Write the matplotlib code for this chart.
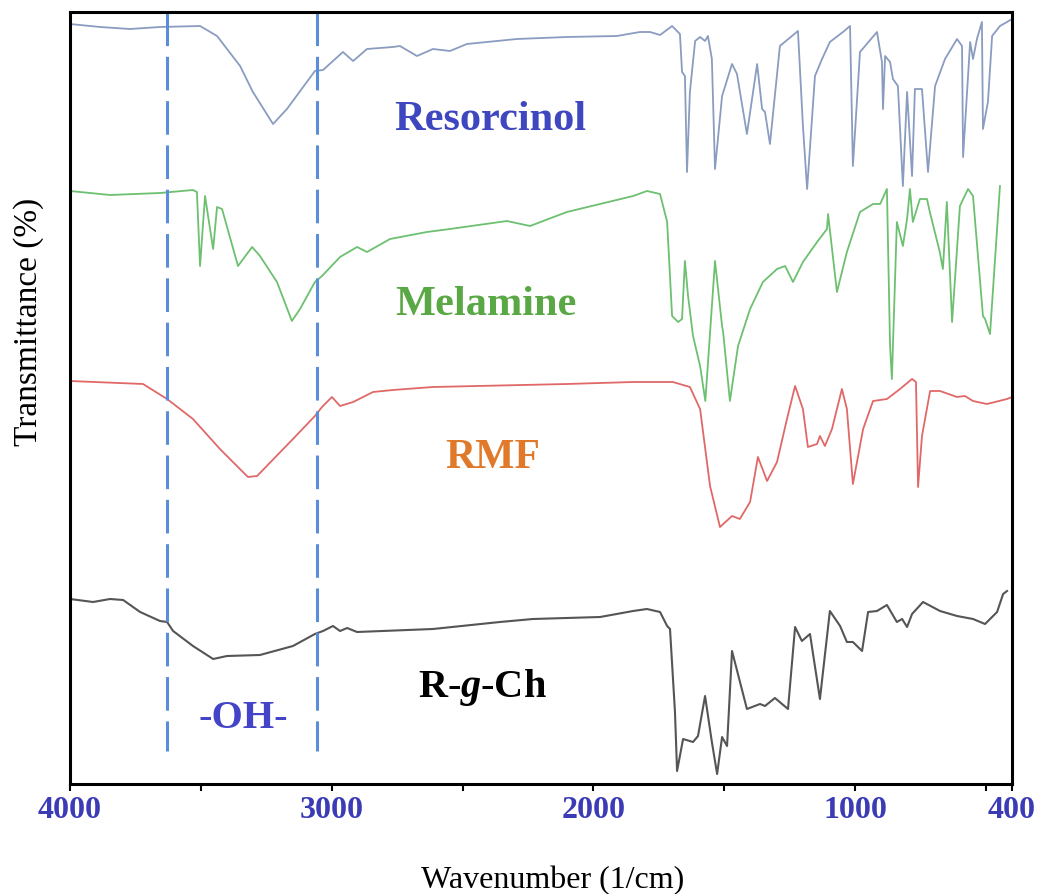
import matplotlib
matplotlib.use("Agg")
import matplotlib.pyplot as plt
from matplotlib.ticker import FixedLocator

plt.rcParams['font.family'] = ['Liberation Serif', 'DejaVu Serif']
plt.rcParams['mathtext.fontset'] = 'custom'
plt.rcParams['mathtext.rm'] = 'Liberation Serif:bold'
plt.rcParams['mathtext.it'] = 'Liberation Serif:italic:bold'
plt.rcParams['mathtext.bf'] = 'Liberation Serif:bold'
plt.rcParams['lines.solid_joinstyle'] = 'round'

# FTIR spectra (stacked, arbitrary transmittance units)
res_wn = [4000, 3885, 3771, 3656, 3503, 3438, 3350, 3301, 3224, 3171, 3064, 3033, 2957, 2918,
          2865, 2766, 2739, 2674, 2613, 2548, 2483, 2292, 2101, 1910, 1822, 1783, 1745, 1699,
          1669, 1661, 1650, 1642, 1631, 1611, 1592, 1573, 1562, 1547, 1535, 1508, 1470, 1451,
          1413, 1374, 1355, 1344, 1325, 1287, 1218, 1199, 1183, 1153, 1126, 1096, 1046, 1019,
          1008, 981, 916, 897, 893, 885, 866, 855, 836, 817, 801, 782, 771, 744, 721, 694, 656,
          610, 591, 587, 560, 549, 534, 515, 511, 492, 476, 446, 419, 400]
res_t = [760, 757, 755, 757, 758, 748, 718, 692, 660, 675, 713, 714, 732, 723,
         735, 737, 738, 728, 735, 733, 740, 745, 747, 748, 752, 752, 749, 758,
         750, 712, 708, 612, 692, 743, 747, 743, 748, 725, 615, 688, 720, 710,
         650, 720, 675, 672, 640, 738, 753, 658, 595, 708, 725, 742, 752, 758,
         618, 732, 752, 722, 675, 728, 722, 705, 698, 598, 692, 608, 695, 695, 612, 698, 725,
         745, 738, 627, 742, 725, 745, 762, 655, 682, 748, 758, 762, 765]

mel_wn = [4000, 3847, 3656, 3530, 3515, 3503, 3484, 3453, 3438, 3419, 3358, 3304, 3274, 3209,
          3152, 3121, 3064, 3037, 2968, 2903, 2865, 2777, 2636, 2548, 2330, 2242, 2101, 1848,
          1795, 1745, 1718, 1699, 1676, 1661, 1650, 1638, 1619, 1592, 1572, 1535, 1508, 1504,
          1478, 1447, 1401, 1352, 1298, 1267, 1237, 1199, 1145, 1107, 1103, 1069, 1031, 981,
          931, 904, 878, 866, 859, 840, 817, 801, 790, 779, 752, 725, 714, 676, 664, 649, 629,
          599, 568, 549, 511, 503, 484, 446]
mel_t = [593, 589, 591, 594, 592, 518, 588, 535, 577, 575, 518, 537, 528, 502,
         463, 475, 502, 508, 527, 537, 532, 545, 552, 555, 563, 558, 572, 588,
         593, 590, 562, 468, 462, 465, 523, 488, 448, 418, 383, 523, 458, 452,
         383, 438, 475, 502, 515, 518, 502, 522, 542, 555, 570, 492, 532, 572,
         580, 580, 595, 438, 405, 562, 538, 565, 595, 562, 585, 585, 572, 532, 515, 582, 462,
         578, 595, 588, 468, 465, 450, 598]

rmf_wn = [4000, 3721, 3629, 3530, 3427, 3320, 3285, 3148, 3064, 3037, 2999, 2968, 2918, 2842,
          2766, 2613, 2101, 1848, 1696, 1631, 1592, 1554, 1516, 1470, 1440, 1401, 1371, 1336,
          1298, 1260, 1229, 1199, 1180, 1145, 1134, 1115, 1088, 1050, 1031, 1008, 969, 931,
          878, 828, 782, 767, 759, 744, 713, 675, 610, 580, 549, 496, 419, 400]
rmf_t = [403, 400, 385, 365, 335, 307, 308, 345, 368, 377, 387, 378, 382, 392,
         394, 397, 400, 402, 402, 397, 375, 298, 257, 268, 265, 282, 327, 303,
         322, 365, 398, 375, 337, 340, 348, 338, 355, 395, 375, 300, 355, 383,
         385, 395, 405, 402, 297, 348, 393, 393, 387, 388, 383, 380, 385, 387]

rgc_wn = [4000, 3912, 3847, 3797, 3732, 3656, 3629, 3606, 3530, 3453, 3400, 3274, 3148, 3064,
          3033, 2995, 2968, 2941, 2903, 2613, 2357, 2231, 1974, 1848, 1795, 1745, 1718, 1707,
          1688, 1680, 1657, 1619, 1600, 1573, 1547, 1527, 1508, 1489, 1470, 1413, 1363, 1344,
          1306, 1256, 1229, 1203, 1172, 1134, 1096, 1057, 1031, 1008, 973, 950, 916, 878, 840,
          820, 801, 782, 740, 675, 610, 549, 503, 457, 434, 419]
rgc_t = [185, 182, 185, 184, 172, 163, 162, 153, 138, 125, 128, 129, 138, 150,
         153, 158, 153, 156, 152, 155, 162, 165, 167, 173, 175, 172, 158, 155,
         72, 13, 45, 42, 48, 88, 42, 10, 47, 38, 133, 75, 80, 78,
         86, 75, 157, 143, 150, 85, 173, 158, 142, 142, 133, 172, 173, 179, 162,
         165, 157, 170, 182, 173, 168, 165, 160, 172, 190, 193]

oh_bounds = [3630, 3055]

fig = plt.figure(figsize=(10.4, 8.95), dpi=100)
ax = fig.add_axes([70/1040, 1-785/895, 942/1040, 772/895])

ax.plot(res_wn, res_t, color='#8a9cc0', lw=1.3)
ax.plot(mel_wn, mel_t, color='#6cc070', lw=1.3)
ax.plot(rmf_wn, rmf_t, color='#e06868', lw=1.3)
ax.plot(rgc_wn, rgc_t, color='#555555', lw=1.5)

for x in oh_bounds:
    ax.plot([x, x], [772, 33], color='#5b8ed8', lw=2.2, linestyle=(0, (11, 3.5)))

ax.text(2395, 665, 'Resorcinol', color='#3f47c0', fontsize=30.5, fontweight='bold', ha='center', va='center')
ax.text(2410, 480, 'Melamine', color='#5aa845', fontsize=30.5, fontweight='bold', ha='center', va='center')
ax.text(2383, 327, 'RMF', color='#e07a2a', fontsize=30, fontweight='bold', ha='center', va='center')
ax.text(2425, 97, r'R-$\mathit{g}$-Ch', color='black', fontsize=29, fontweight='bold', ha='center', va='center')
ax.text(3339, 67, '-OH-', color='#4444c8', fontsize=29, fontweight='bold', ha='center', va='center')

ax.set_xlim(4000, 400)
ax.set_ylim(0, 772)
ax.xaxis.set_major_locator(FixedLocator([4000, 3000, 2000, 1000, 400]))
ax.xaxis.set_minor_locator(FixedLocator([3500, 2500, 1500, 500]))
ax.set_yticks([])
for lab in ax.get_xticklabels():
    lab.set_fontweight('bold')
ax.tick_params(axis='x', which='both', direction='out', length=5, width=1.5,
               labelsize=23, labelcolor='#3b3bb5', pad=3)

for s in ax.spines.values():
    s.set_linewidth(2.2)
    s.set_color('black')

ax.set_xlabel('Wavenumber (1/cm)', fontsize=23)
ax.xaxis.set_label_coords(0.512, -0.124)
ax.xaxis.label.set_va('center')
ax.set_ylabel('Transmittance (%)', fontsize=24)
ax.yaxis.set_label_coords(-0.0435, 0.60)
ax.yaxis.label.set_va('center')

fig.savefig('out.png', dpi=100)
